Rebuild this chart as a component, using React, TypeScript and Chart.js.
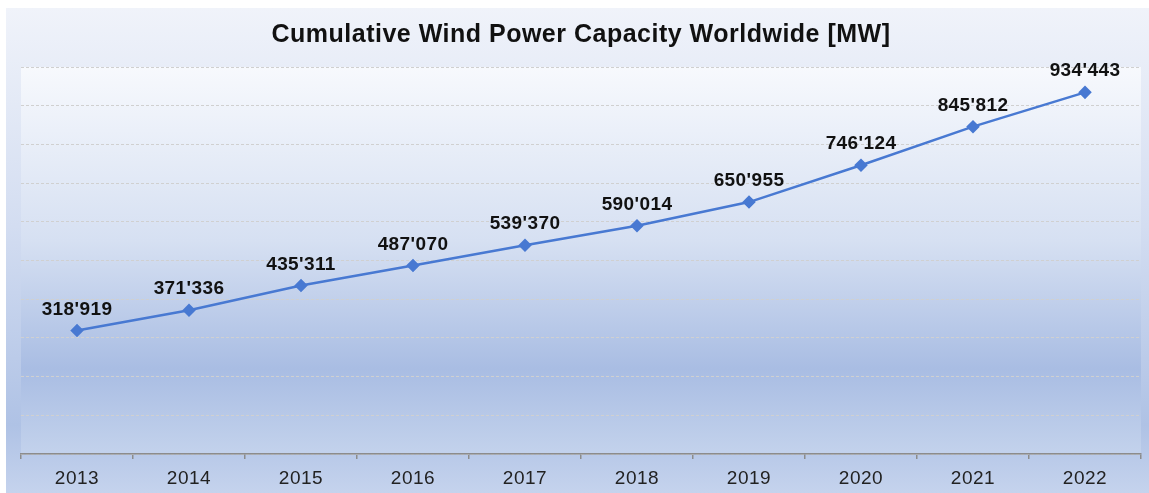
import React, { useEffect, useRef } from "react";
import { Chart, registerables } from "chart.js";

Chart.register(...registerables);

const categories = ["2013", "2014", "2015", "2016", "2017", "2018", "2019", "2020", "2021", "2022"];
const capacityMW = [318919, 371336, 435311, 487070, 539370, 590014, 650955, 746124, 845812, 934443];
const dataLabels = ["318'919", "371'336", "435'311", "487'070", "539'370", "590'014", "650'955", "746'124", "845'812", "934'443"];
const chartTitle = "Cumulative Wind Power Capacity Worldwide [MW]";
const yMin = 0;
const yMax = 1000000;
const yStep = 100000;

const FONT = "'Liberation Sans', Arial, Helvetica, sans-serif";

const backgroundPlugin = {
  id: "bgPanels",
  beforeDraw(chart: any) {
    const { ctx, chartArea, width, height } = chart;
    ctx.save();
    ctx.fillStyle = "#ffffff";
    ctx.fillRect(0, 0, width, height);
    const og = ctx.createLinearGradient(0, 8, 0, height);
    og.addColorStop(0, "#f0f3fa");
    og.addColorStop(0.45, "#d3ddf1");
    og.addColorStop(0.86, "#afc2e5");
    og.addColorStop(1, "#c5d3ed");
    ctx.fillStyle = og;
    ctx.fillRect(6, 8, width - 6, height - 8);
    const { left, right, top, bottom } = chartArea;
    const pg = ctx.createLinearGradient(0, top, 0, bottom);
    pg.addColorStop(0, "#f7f9fd");
    pg.addColorStop(0.45, "#d6e0f2");
    pg.addColorStop(0.78, "#a9bde3");
    pg.addColorStop(1, "#c3d2ec");
    ctx.fillStyle = pg;
    ctx.fillRect(left, top, right - left, bottom - top);
    ctx.restore();
    ctx.letterSpacing = "0.5px";
  },
  afterDraw(chart: any) {
    chart.ctx.letterSpacing = "0px";
  },
};

const labelPlugin = {
  id: "pointLabels",
  afterDatasetsDraw(chart: any) {
    const { ctx } = chart;
    const meta = chart.getDatasetMeta(0);
    ctx.save();
    ctx.letterSpacing = "0.4px";
    ctx.font = `bold 19px ${FONT}`;
    ctx.fillStyle = "#111111";
    ctx.textAlign = "center";
    ctx.textBaseline = "alphabetic";
    meta.data.forEach((pt: any, i: number) => {
      ctx.fillText(dataLabels[i], pt.x, pt.y - 16);
    });
    ctx.restore();
  },
};

export default function App() {
  const ref = useRef<HTMLCanvasElement | null>(null);
  useEffect(() => {
    document.body.style.margin = "0";
    const canvas = ref.current;
    if (!canvas) return;
    const chart = new Chart(canvas, {
      type: "line",
      data: {
        labels: categories,
        datasets: [
          {
            data: capacityMW,
            borderColor: "#4879d2",
            backgroundColor: "#4879d2",
            borderWidth: 2.5,
            pointStyle: "rectRot",
            pointRadius: 5,
            pointBackgroundColor: "#4879d2",
            pointBorderColor: "#4879d2",
            tension: 0,
            fill: false,
          },
        ],
      },
      options: {
        responsive: false,
        animation: false,
        layout: { padding: { left: 21, right: 8, top: 8, bottom: 0 } },
        plugins: {
          legend: { display: false },
          tooltip: { enabled: false },
          title: {
            display: true,
            text: chartTitle,
            color: "#111111",
            font: { family: FONT, size: 25, weight: "bold" },
            padding: { top: 12, bottom: 17 },
          },
        },
        scales: {
          x: {
            offset: true,
            grid: {
              offset: true,
              drawOnChartArea: false,
              drawTicks: true,
              tickLength: 5,
              color: "#8c8c8c",
              lineWidth: 1.5,
            },
            border: { display: true, color: "#8c8c8c", width: 1.5 },
            ticks: {
              color: "#222222",
              font: { family: FONT, size: 19 },
              padding: 8,
              maxRotation: 0,
            },
            afterFit: (s: any) => {
              s.height = 39;
            },
          },
          y: {
            min: yMin,
            max: yMax,
            ticks: { display: false, stepSize: yStep },
            border: { display: false, dash: [3, 2] },
            grid: { color: "#d0d0d0", lineWidth: 1, drawTicks: false },
            afterFit: (s: any) => {
              s.width = 0;
            },
          },
        },
      },
      plugins: [backgroundPlugin, labelPlugin],
    });
    return () => chart.destroy();
  }, []);
  return (
    <div style={{ width: 1149, height: 493 }}>
      <canvas ref={ref} width={1149} height={493} style={{ display: "block" }} />
    </div>
  );
}
